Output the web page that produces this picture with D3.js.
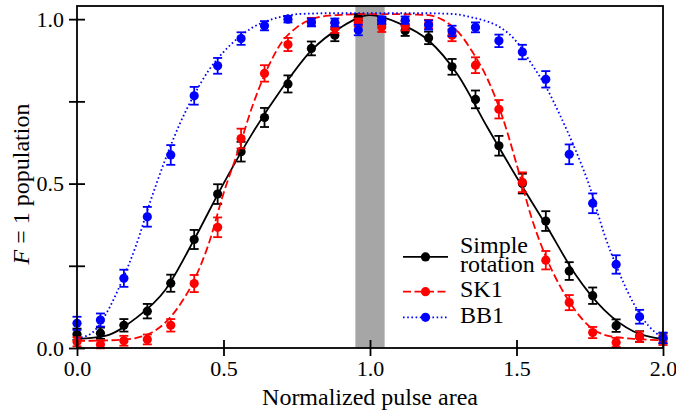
<!DOCTYPE html>
<html>
<head>
<meta charset="utf-8">
<script src="https://cdn.jsdelivr.net/npm/d3@7"></script>
</head>
<body style="margin:0;background:#fff">
<svg id="chart"></svg>
<script>
// measured populations, pulse area sampled every 0.08
const pulseArea = [0, 0.08, 0.16, 0.24, 0.32, 0.40, 0.48, 0.56, 0.64, 0.72, 0.80, 0.88, 0.96,
                   1.04, 1.12, 1.20, 1.28, 1.36, 1.44, 1.52, 1.60, 1.68, 1.76, 1.84, 1.92, 2.00];

const simpleVals = [0.042, 0.045, 0.069, 0.112, 0.197, 0.330, 0.468, 0.597, 0.701, 0.803, 0.911, 0.951, 1.005,
                    0.995, 0.965, 0.943, 0.855, 0.756, 0.615, 0.500, 0.386, 0.234, 0.159, 0.068, 0.035, 0.030];
const simpleErr  = [0.017, 0.017, 0.019, 0.022, 0.026, 0.029, 0.030, 0.030, 0.029, 0.026, 0.021, 0.018, 0.010,
                    0.011, 0.016, 0.019, 0.024, 0.027, 0.030, 0.030, 0.030, 0.027, 0.025, 0.019, 0.016, 0.016];

const sk1Vals = [0.019, 0.011, 0.022, 0.026, 0.069, 0.196, 0.367, 0.637, 0.835, 0.923, 0.992, 0.973, 0.990,
                 0.976, 0.980, 0.985, 0.951, 0.860, 0.726, 0.504, 0.267, 0.138, 0.047, 0.017, 0.034, 0.024];
const sk1Err  = [0.014, 0.012, 0.015, 0.015, 0.019, 0.026, 0.030, 0.030, 0.025, 0.020, 0.012, 0.015, 0.012,
                 0.015, 0.014, 0.013, 0.018, 0.024, 0.028, 0.030, 0.028, 0.023, 0.017, 0.014, 0.016, 0.015];

const bb1Vals = [0.075, 0.085, 0.212, 0.399, 0.587, 0.767, 0.858, 0.941, 0.980, 1.000, 0.990, 0.990, 0.967,
                 0.997, 0.997, 0.982, 0.964, 0.975, 0.934, 0.900, 0.817, 0.589, 0.440, 0.254, 0.095, 0.031];
const bb1Err  = [0.020, 0.020, 0.026, 0.030, 0.030, 0.027, 0.024, 0.019, 0.014, 0.010, 0.012, 0.012, 0.016,
                 0.011, 0.011, 0.014, 0.016, 0.015, 0.019, 0.022, 0.025, 0.030, 0.030, 0.028, 0.021, 0.016];

// theory curves
const fitX10 = [0, 0.1, 0.2, 0.3, 0.4, 0.5, 0.6, 0.7, 0.8, 0.9, 1.0,
                1.1, 1.2, 1.3, 1.4, 1.5, 1.6, 1.7, 1.8, 1.9, 2.0];
const simpleFit = [0.028, 0.038, 0.090, 0.175, 0.330, 0.500, 0.655, 0.790, 0.905, 0.975, 1.012,
                   0.987, 0.935, 0.830, 0.672, 0.520, 0.375, 0.225, 0.115, 0.050, 0.027];

const fitX05 = [0, 0.05, 0.10, 0.15, 0.20, 0.25, 0.30, 0.35, 0.40, 0.45, 0.50, 0.55, 0.60, 0.65, 0.70,
                0.75, 0.80, 0.85, 0.90, 0.95, 1.00, 1.05, 1.10, 1.15, 1.20, 1.25, 1.30, 1.35, 1.40,
                1.45, 1.50, 1.55, 1.60, 1.65, 1.70, 1.75, 1.80, 1.85, 1.90, 1.95, 2.00];
const sk1Fit = [0.022, 0.022, 0.023, 0.025, 0.030, 0.045, 0.076, 0.130, 0.207, 0.318, 0.470, 0.600, 0.739,
                0.850, 0.931, 0.975, 1.000, 1.010, 1.013, 1.015, 1.015, 1.015, 1.015, 1.014, 1.012, 0.997,
                0.962, 0.900, 0.820, 0.708, 0.560, 0.400, 0.278, 0.186, 0.115, 0.065, 0.040, 0.032, 0.028,
                0.025, 0.024];
const bb1Fit = [0.030, 0.045, 0.105, 0.197, 0.308, 0.445, 0.570, 0.680, 0.770, 0.845, 0.900, 0.943, 0.975,
                0.995, 1.008, 1.015, 1.017, 1.018, 1.018, 1.018, 1.018, 1.018, 1.018, 1.018, 1.018, 1.017,
                1.014, 1.005, 0.993, 0.972, 0.932, 0.866, 0.795, 0.705, 0.605, 0.490, 0.345, 0.230, 0.135,
                0.068, 0.030];

const seriesNames = [["Simple", "rotation"], ["SK1"], ["BB1"]];
const seriesColors = ["#000000", "#ff0000", "#0000ff"];
const seriesDash = [null, "8,3.5", "1.6,2.6"];

const shadedBand = [0.95, 1.05];

const xTicks = [0, 0.5, 1.0, 1.5, 2.0];
const xTickLabels = ["0.0", "0.5", "1.0", "1.5", "2.0"];
const yTicks = [0, 0.25, 0.5, 0.75, 1.0];
const yTickLabels = ["0.0", "", "0.5", "", "1.0"];

const width = 676, height = 415;
const margin = { top: 6, right: 13, bottom: 67, left: 77 };
const serif = '"Liberation Serif", monospace';

const svg = d3.select("#chart")
  .attr("width", width)
  .attr("height", height)
  .attr("viewBox", [0, 0, width, height]);

const x = d3.scaleLinear().domain([0, 2]).range([margin.left, width - margin.right]);
const y = d3.scaleLinear().domain([0, 1.04]).range([height - margin.bottom, margin.top]);

const series = [
  { vals: simpleVals, err: simpleErr, fx: fitX10, fy: simpleFit },
  { vals: sk1Vals, err: sk1Err, fx: fitX05, fy: sk1Fit },
  { vals: bb1Vals, err: bb1Err, fx: fitX05, fy: bb1Fit }
];

// grey band round pulse area 1
svg.append("rect")
  .attr("x", x(shadedBand[0]))
  .attr("y", y.range()[1])
  .attr("width", x(shadedBand[1]) - x(shadedBand[0]))
  .attr("height", y.range()[0] - y.range()[1])
  .attr("fill", "#a6a6a6");

const line = d3.line().curve(d3.curveMonotoneX);
const cap = 4.5;

series.forEach((s, k) => {
  const col = seriesColors[k];
  const pts = pulseArea.map((a, i) => ({ a, v: s.vals[i], e: s.err[i] }));
  const g = svg.append("g").attr("stroke", col).attr("stroke-width", 1.8);

  g.append("g").selectAll("line").data(pts).join("line")
    .attr("x1", d => x(d.a)).attr("x2", d => x(d.a))
    .attr("y1", d => y(d.v - d.e)).attr("y2", d => y(d.v + d.e));
  g.append("g").selectAll("line").data(pts).join("line")
    .attr("x1", d => x(d.a) - cap).attr("x2", d => x(d.a) + cap)
    .attr("y1", d => y(d.v + d.e)).attr("y2", d => y(d.v + d.e));
  g.append("g").selectAll("line").data(pts).join("line")
    .attr("x1", d => x(d.a) - cap).attr("x2", d => x(d.a) + cap)
    .attr("y1", d => y(d.v - d.e)).attr("y2", d => y(d.v - d.e));
  svg.append("g").selectAll("circle").data(pts).join("circle")
    .attr("cx", d => x(d.a)).attr("cy", d => y(d.v)).attr("r", 4.6)
    .attr("fill", col);

  svg.append("path")
    .attr("d", line(s.fx.map((fx, i) => [x(fx), y(s.fy[i])])))
    .attr("fill", "none")
    .attr("stroke", col)
    .attr("stroke-width", 1.8)
    .attr("stroke-dasharray", seriesDash[k]);
});

// frame
svg.append("rect")
  .attr("x", x.range()[0]).attr("y", y.range()[1])
  .attr("width", x.range()[1] - x.range()[0])
  .attr("height", y.range()[0] - y.range()[1])
  .attr("fill", "none").attr("stroke", "#000").attr("stroke-width", 1.8);

const tickLen = 8;
const styleAxis = g => {
  g.select(".domain").remove();
  g.selectAll(".tick line").attr("stroke-width", 1.8);
  g.selectAll(".tick text")
    .attr("fill", "#000")
    .style("font-family", serif)
    .style("font-size", "22px");
};

svg.append("g")
  .attr("transform", `translate(0,${y(0) - tickLen})`)
  .call(d3.axisBottom(x).tickValues(xTicks).tickFormat((d, i) => xTickLabels[i])
    .tickSize(tickLen * 2).tickPadding(4))
  .call(styleAxis);

svg.append("g")
  .attr("transform", `translate(${x(0) + tickLen},0)`)
  .call(d3.axisLeft(y).tickValues(yTicks).tickFormat((d, i) => yTickLabels[i])
    .tickSize(tickLen * 2).tickPadding(5))
  .call(styleAxis);

// axis titles
svg.append("text")
  .attr("x", (x.range()[0] + x.range()[1]) / 2)
  .attr("y", 405)
  .attr("text-anchor", "middle")
  .style("font-family", serif)
  .style("font-size", "24px")
  .text("Normalized pulse area");

const yl = svg.append("text")
  .attr("transform", "translate(29,184) rotate(-90)")
  .attr("text-anchor", "middle")
  .style("font-family", serif)
  .style("font-size", "24px");
yl.append("tspan").style("font-style", "italic").text("F");
yl.append("tspan").text(" = 1 population");

// legend
const lg = svg.append("g");
const lineH = 18.3, gap = 7.3;
let rowTop = 239.5;
seriesNames.forEach((lines, k) => {
  const base = lines.map((_, j) => rowTop + (j + 1) * lineH - 4.5);
  const hy = (base[0] + base[base.length - 1]) / 2 - 5.5;
  lg.append("line")
    .attr("x1", 403).attr("x2", 448).attr("y1", hy).attr("y2", hy)
    .attr("stroke", seriesColors[k]).attr("stroke-width", 1.8)
    .attr("stroke-dasharray", seriesDash[k]);
  lg.append("circle").attr("cx", 425.5).attr("cy", hy).attr("r", 4.6).attr("fill", seriesColors[k]);
  const t = lg.append("text").style("font-family", serif).style("font-size", "24px");
  lines.forEach((s, j) => {
    t.append("tspan").attr("x", 460).attr("y", base[j]).text(s);
  });
  rowTop += lines.length * lineH + gap;
});
</script>
</body>
</html>
